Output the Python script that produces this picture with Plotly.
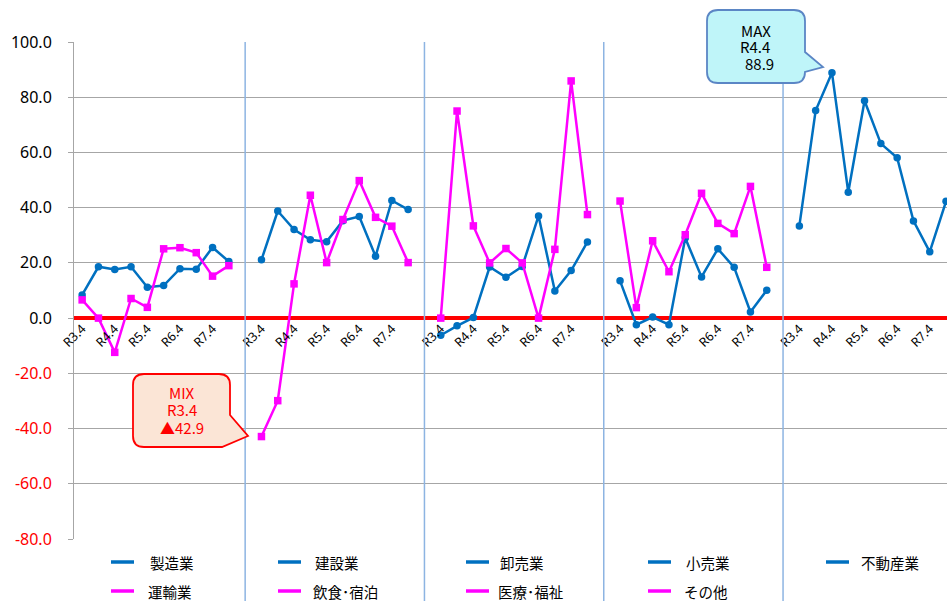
import plotly.graph_objects as go

# ---------------- data ----------------
periods = ["R3.4", "R3.10", "R4.4", "R4.10", "R5.4", "R5.10", "R6.4", "R6.10", "R7.4", "R7.10"]
label_periods = ["R3.4", "R4.4", "R5.4", "R6.4", "R7.4"]

blue_names = ["製造業", "建設業", "卸売業", "小売業", "不動産業"]
pink_names = ["運輸業", "飲食･宿泊", "医療･福祉", "その他"]

seizo = [8.4, 18.6, 17.6, 18.6, 11.2, 11.8, 17.9, 17.7, 25.6, 20.5]
kensetsu = [21.1, 38.8, 32.1, 28.4, 27.7, 35.3, 36.8, 22.4, 42.6, 39.3]
oroshi = [-6.2, -2.8, 0.2, 18.5, 14.8, 18.7, 37.0, 9.8, 17.2, 27.6]
kouri = [13.5, -2.4, 0.4, -2.4, 29.0, 14.9, 25.1, 18.4, 2.2, 10.1]
fudosan = [33.4, 75.2, 88.9, 45.6, 78.7, 63.2, 58.1, 35.2, 24.0, 42.3]

unyu = [6.6, 0.0, -12.4, 7.1, 3.9, 25.1, 25.5, 23.7, 15.2, 19.0]
inshoku = [-42.9, -29.9, 12.4, 44.5, 20.1, 35.7, 49.8, 36.5, 33.3, 20.1]
iryo = [0.0, 75.0, 33.4, 20.0, 25.2, 20.0, 0.0, 24.9, 85.9, 37.5]
sonota = [42.4, 3.8, 28.0, 16.8, 30.2, 45.2, 34.3, 30.6, 47.7, 18.4]

blue_series = [seizo, kensetsu, oroshi, kouri, fudosan]
pink_series = [unyu, inshoku, iryo, sonota]

y_ticks = [100, 80, 60, 40, 20, 0, -20, -40, -60, -80]

max_lines = ["MAX", "R4.4", "88.9"]
min_lines = ["MIX", "R3.4", "▲42.9"]

# ---------------- layout constants ----------------
W, H = 947, 601
PL, PT, PW, PH = 74, 42, 873, 497
SLOTS = len(periods) + 1          # one empty slot between panels
SLOT_PX = 16.3
X_MAX = -0.5 + PW / SLOT_PX

BLUE = "#0070C0"
PINK = "#FF00FF"
SEP = "#8DB4E2"
GRID = "#A6A6A6"
FONT = "Noto Sans CJK JP, Noto Sans, sans-serif"


def px(X):
    return (X - PL) / PW


def py(Y):
    return (PT + PH - Y) / PH


def xpos(panel):
    return [panel * SLOTS + i for i in range(len(periods))]


fig = go.Figure()

for p, vals in enumerate(blue_series):
    fig.add_trace(go.Scatter(
        x=xpos(p), y=vals, mode="lines+markers", name=blue_names[p],
        line=dict(color=BLUE, width=2.5),
        marker=dict(symbol="circle", size=7.5, color=BLUE),
        showlegend=False, cliponaxis=True))

for p, vals in enumerate(pink_series):
    fig.add_trace(go.Scatter(
        x=xpos(p), y=vals, mode="lines+markers", name=pink_names[p],
        line=dict(color=PINK, width=2.5),
        marker=dict(symbol="square", size=7.5, color=PINK),
        showlegend=False, cliponaxis=True))

# x ticks
tickvals, ticktext = [], []
for p in range(len(blue_series)):
    for lab in label_periods:
        tickvals.append(p * SLOTS + periods.index(lab))
        ticktext.append(lab)

y_text = []
for v in y_ticks:
    s = f"{v:.1f}"
    if v < 0:
        s = f"<span style='color:#FF0000'>{s}</span>"
    y_text.append(s)

shapes = []
# panel separators (extend into legend area)
for p in range(1, len(blue_series)):
    xs = p * SLOTS - 1
    shapes.append(dict(type="line", xref="x", yref="paper", x0=xs, x1=xs,
                       y0=py(601), y1=1, line=dict(color=SEP, width=1.5), layer="above"))


def callout_path(x0, y0, x1, y1, r, ptr):
    pts = []
    pts.append(f"M{px(x0 + r)},{py(y0)}")
    pts.append(f"L{px(x1 - r)},{py(y0)}")
    pts.append(f"Q{px(x1)},{py(y0)} {px(x1)},{py(y0 + r)}")
    kind = ptr[0]
    if kind == "right":
        ya, tx, ty, yb = ptr[1:]
        pts.append(f"L{px(x1)},{py(ya)}")
        pts.append(f"L{px(tx)},{py(ty)}")
        pts.append(f"L{px(x1)},{py(yb)}")
        pts.append(f"L{px(x1)},{py(y1 - r)}")
        pts.append(f"Q{px(x1)},{py(y1)} {px(x1 - r)},{py(y1)}")
    else:  # corner pointer
        ya, tx, ty, xb = ptr[1:]
        pts.append(f"L{px(x1)},{py(ya)}")
        pts.append(f"L{px(tx)},{py(ty)}")
        pts.append(f"L{px(xb)},{py(y1)}")
    pts.append(f"L{px(x0 + r)},{py(y1)}")
    pts.append(f"Q{px(x0)},{py(y1)} {px(x0)},{py(y1 - r)}")
    pts.append(f"L{px(x0)},{py(y0 + r)}")
    pts.append(f"Q{px(x0)},{py(y0)} {px(x0 + r)},{py(y0)}")
    pts.append("Z")
    return " ".join(pts)


shapes.append(dict(type="path", xref="paper", yref="paper",
                   path=callout_path(707, 10, 805, 83, 11, ("right", 52, 823, 67, 72)),
                   fillcolor="#BFF5F9", line=dict(color="#5B86C5", width=1.8), layer="above"))
shapes.append(dict(type="path", xref="paper", yref="paper",
                   path=callout_path(133, 374, 230, 447, 11, ("corner", 415, 248, 436, 222)),
                   fillcolor="#FBE5D6", line=dict(color="#FF0000", width=1.8), layer="above"))

annotations = []
for txt, (cx, cy) in zip(max_lines, [(756, 30), (755, 47), (759, 64)]):
    annotations.append(dict(xref="paper", yref="paper", x=px(cx), y=py(cy),
                            xanchor="center", yanchor="middle", text=txt, showarrow=False,
                            borderpad=0, font=dict(family=FONT, size=15, color="#000000")))
for txt, (cx, cy) in zip(min_lines, [(182, 392), (182, 409), (182, 427)]):
    annotations.append(dict(xref="paper", yref="paper", x=px(cx), y=py(cy),
                            xanchor="center", yanchor="middle", text=txt, showarrow=False,
                            borderpad=0, font=dict(family=FONT, size=15, color="#FF0000")))

# manual legend
leg_cols = [(111, 148), (278, 313), (466, 498), (648, 684), (826, 859)]
rows_y = [562, 591]
for i, name in enumerate(blue_names):
    d0, t0 = leg_cols[i]
    shapes.append(dict(type="line", xref="paper", yref="paper", x0=px(d0), x1=px(d0 + 23),
                       y0=py(rows_y[0]), y1=py(rows_y[0]), line=dict(color=BLUE, width=3.5)))
    annotations.append(dict(xref="paper", yref="paper", x=px(t0), y=py(rows_y[0]), text=name,
                            xanchor="left", yanchor="middle", showarrow=False,
                            font=dict(family=FONT, size=14.5, color="#000000")))
for i, name in enumerate(pink_names):
    d0, t0 = leg_cols[i]
    shapes.append(dict(type="line", xref="paper", yref="paper", x0=px(d0), x1=px(d0 + 23),
                       y0=py(rows_y[1]), y1=py(rows_y[1]), line=dict(color=PINK, width=3.5)))
    annotations.append(dict(xref="paper", yref="paper", x=px(t0 - 2), y=py(rows_y[1]), text=name,
                            xanchor="left", yanchor="middle", showarrow=False,
                            font=dict(family=FONT, size=14.5, color="#000000")))

fig.update_layout(
    width=W, height=H,
    margin=dict(l=PL, r=W - PL - PW, t=PT, b=H - PT - PH, pad=0, autoexpand=False),
    paper_bgcolor="white", plot_bgcolor="white",
    font=dict(family=FONT, color="#000000"),
    showlegend=False, hovermode=False,
    shapes=shapes, annotations=annotations,
    xaxis=dict(range=[-0.5, X_MAX], tickmode="array", tickvals=tickvals, ticktext=ticktext,
               tickangle=-45, showgrid=False, zeroline=False, showline=False, ticks="",
               anchor="free", position=80 / 180, automargin=False,
               tickfont=dict(family="Noto Sans, sans-serif", size=12.5, color="#000000")),
    yaxis=dict(range=[-80, 100], tickmode="array", tickvals=y_ticks, ticktext=y_text,
               showgrid=True, gridcolor=GRID, gridwidth=1, automargin=False,
               zeroline=True, zerolinecolor="#FF0000", zerolinewidth=3.5,
               showline=True, linecolor=GRID, linewidth=1,
               ticks="outside", ticklen=5, tickcolor=GRID, ticklabelstandoff=13,
               tickfont=dict(family="Noto Sans, sans-serif", size=16, color="#000000")),
)

fig.write_html("out.html", config={"displayModeBar": False, "staticPlot": True},
               post_script="document.body.style.margin='0px';")
